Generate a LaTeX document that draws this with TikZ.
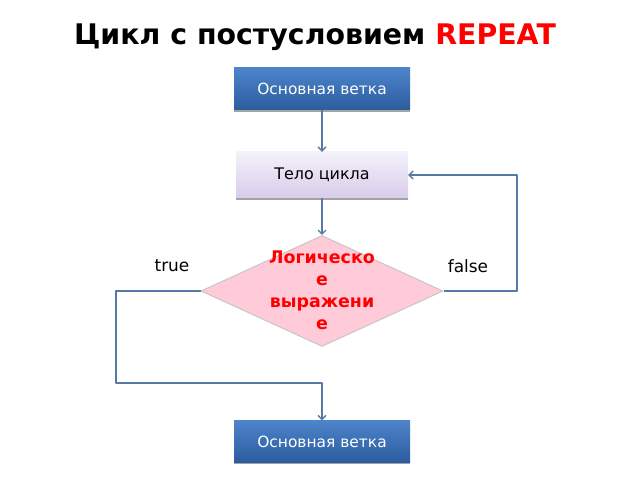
\documentclass[tikz,border=0pt]{standalone}
\usepackage{fontspec}
\setmainfont{DejaVu Sans}
\usetikzlibrary{shapes.geometric,arrows.meta,shadows}
\definecolor{branchtop}{HTML}{4D84CB}
\definecolor{branchbot}{HTML}{2C5C9E}
\definecolor{bodytop}{HTML}{F4F1FA}
\definecolor{bodybot}{HTML}{D8CCEA}
\definecolor{condfill}{HTML}{FFCBD9}
\definecolor{flowline}{HTML}{5878A6}
\tikzset{
  branchbox/.style={rectangle,draw=none,top color=branchtop,bottom color=branchbot,
    text=white,font=\fontsize{15.5}{18}\selectfont,minimum width=176bp,minimum height=42bp,
    drop shadow={shadow xshift=0bp,shadow yshift=-2bp,fill=black!45,opacity=0.8}},
  bodybox/.style={rectangle,draw=none,top color=bodytop,bottom color=bodybot,
    font=\fontsize{16}{18}\selectfont,minimum width=172bp,minimum height=46bp,
    drop shadow={shadow xshift=0bp,shadow yshift=-2bp,fill=black!45,opacity=0.8}},
  condbox/.style={diamond,fill=condfill,draw=gray!45,line width=1bp,inner sep=0bp,
    aspect=2.18,minimum width=242bp,minimum height=111bp},
  condtext/.style={draw=none,align=center,text=red,inner sep=0bp,
    font=\fontsize{17.5}{22}\selectfont\bfseries},
  flow/.style={draw=flowline,line width=1.3bp},
  branchlabel/.style={draw=none,font=\fontsize{17}{19}\selectfont},
}
\begin{document}
\begin{tikzpicture}[>={Straight Barb[length=4bp,width=8bp]},line join=bevel,]
\useasboundingbox (0bp,0bp) rectangle (640bp,480bp);
%%
\node (node_title) at (315bp,443bp) [draw=none] {\fontsize{28.5}{32}\selectfont\bfseries Цикл с постусловием \textcolor{red}{REPEAT}};
  \node (node_top) at (322bp,391bp) [branchbox] {Основная ветка};
  \node (node_body) at (322bp,305bp) [bodybox] {Тело цикла};
  \node (node_cond) at (322bp,189bp) [condbox] {};
  \node (node_cond_text) at (322bp,190bp) [condtext] {Логическо\\е\\выражени\\е};
  \node (node_bottom) at (322bp,38.5bp) [branchbox] {Основная ветка};
  \node (node_true) at (172bp,214bp) [branchlabel] {true};
  \node (node_false) at (468bp,214bp) [branchlabel] {false};
  \coordinate (turn_false) at (517bp,305bp);
  \coordinate (turn_true) at (116bp,97bp);
  \draw [flow,->] (node_top) -- (node_body);
  \draw [flow,->] (node_body) -- (node_cond);
  \draw [flow,->] (node_cond.east) -| (turn_false) -- (node_body.east);
  \draw [flow,->] (node_cond.west) -| (turn_true) -| (node_bottom.north);
%
\end{tikzpicture}
\end{document}
